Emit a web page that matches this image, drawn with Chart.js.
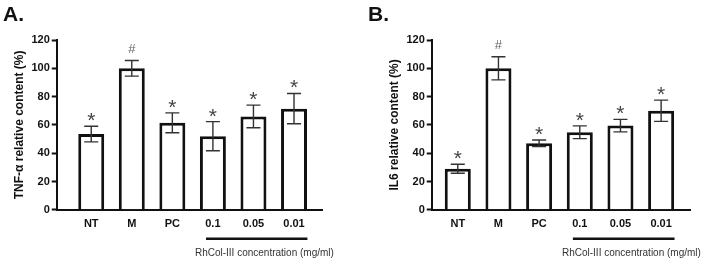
<!DOCTYPE html>
<html>
<head>
<meta charset="utf-8">
<script src="https://cdn.jsdelivr.net/npm/chart.js@4"></script>
<style>
  body { margin: 0; background: #fff; }
  #wrap { position: relative; width: 709px; height: 262px; font-family: "Liberation Sans", Arial, sans-serif; }
  canvas { position: absolute; top: 0; }
  #cA { left: 0; }
  #cB { left: 355px; }
  .panel-label { position: absolute; top: 2px; font-weight: bold; font-size: 21px; line-height: 24px; color: #111; }
</style>
</head>
<body>
<div id="wrap">
  <canvas id="cA" width="355" height="262"></canvas>
  <canvas id="cB" width="354" height="262"></canvas>
  <div class="panel-label" style="left:3px">A.</div>
  <div class="panel-label" style="left:368px">B.</div>
</div>
<script>
const categories = ['NT', 'M', 'PC', '0.1', '0.05', '0.01'];
const marks = ['*', '#', '*', '*', '*', '*'];

const tnfMean = [53.5, 100, 61.5, 52, 66, 71.5];
const tnfErr = [5.5, 5.5, 7, 10.3, 8, 10.7];

const il6Mean = [29, 100, 47, 54.8, 59.5, 70];
const il6Err = [3.2, 8.2, 2.3, 4.5, 4.4, 7.5];

const yTicks = [0, 20, 40, 60, 80, 100, 120];
const concLabel = 'RhCol-III concentration (mg/ml)';

const FONT = '"Liberation Sans", Arial, sans-serif';

// error bars, significance marks, concentration underline
const extrasPlugin = {
    id: 'extras',
    afterDatasetsDraw(chart) {
        const ctx = chart.ctx;
        const ds = chart.data.datasets[0];
        const meta = chart.getDatasetMeta(0);
        const y = chart.scales.y;
        ctx.save();
        meta.data.forEach((bar, i) => {
            const m = ds.data[i].y;
            const e = ds.err[i];
            const top = y.getPixelForValue(m + e);
            const bot = y.getPixelForValue(m - e);
            const half = bar.width * 0.27;
            ctx.strokeStyle = '#333';
            ctx.lineWidth = 1.4;
            ctx.beginPath();
            ctx.moveTo(bar.x, top); ctx.lineTo(bar.x, bot);
            ctx.moveTo(bar.x - half, top); ctx.lineTo(bar.x + half, top);
            ctx.moveTo(bar.x - half, bot); ctx.lineTo(bar.x + half, bot);
            ctx.stroke();

            const mk = ds.marks[i];
            ctx.textAlign = 'center';
            ctx.textBaseline = 'alphabetic';
            if (mk === '#') {
                ctx.fillStyle = '#666';
                ctx.font = '13px ' + FONT;
                ctx.fillText(mk, bar.x, top - 8);
            } else {
                ctx.fillStyle = '#444';
                ctx.font = '21px ' + FONT;
                ctx.fillText(mk, bar.x, top + 1);
            }
        });

        const x = chart.scales.x;
        const lineY = chart.chartArea.bottom + 29;
        ctx.strokeStyle = '#111';
        ctx.lineWidth = 2.5;
        ctx.beginPath();
        ctx.moveTo(x.getPixelForValue(3 - 0.17), lineY);
        ctx.lineTo(x.getPixelForValue(5 + 0.33), lineY);
        ctx.stroke();

        ctx.fillStyle = '#333';
        ctx.font = '10px ' + FONT;
        ctx.textAlign = 'center';
        ctx.textBaseline = 'middle';
        ctx.fillText(concLabel, x.getPixelForValue(4.27), lineY + 14);
        ctx.restore();
    }
};

function makeChart(id, mean, err, yTitle, xMin, xMax, padLeft, padRight) {
    const ctx = document.getElementById(id).getContext('2d');
    return new Chart(ctx, {
        type: 'bar',
        data: {
            datasets: [{
                data: mean.map((v, i) => ({ x: i, y: v })),
                err: err,
                marks: marks,
                backgroundColor: '#fff',
                borderColor: '#111',
                borderWidth: 3,
                borderSkipped: 'start',
                barPercentage: 0.64,
                categoryPercentage: 1
            }]
        },
        options: {
            responsive: false,
            animation: false,
            layout: { padding: { left: padLeft, right: padRight, top: 40, bottom: 23 } },
            plugins: { legend: { display: false }, tooltip: { enabled: false } },
            scales: {
                x: {
                    type: 'linear',
                    offset: false,
                    min: xMin,
                    max: xMax,
                    afterBuildTicks: s => { s.ticks = categories.map((c, i) => ({ value: i })); },
                    ticks: {
                        callback: v => categories[v],
                        color: '#111',
                        padding: 8,
                        maxRotation: 0,
                        autoSkip: false,
                        font: { family: FONT, size: 11, weight: 'bold' }
                    },
                    grid: { display: true, drawOnChartArea: false, drawTicks: false },
                    border: { display: true, color: '#111', width: 2 }
                },
                y: {
                    min: 0,
                    max: 120,
                    afterBuildTicks: s => { s.ticks = yTicks.map(v => ({ value: v })); },
                    ticks: {
                        color: '#111',
                        padding: 2,
                        font: { family: FONT, size: 11, weight: 'bold' }
                    },
                    grid: { drawOnChartArea: false, tickLength: 5, tickWidth: 2, tickColor: '#111' },
                    border: { display: true, color: '#111', width: 2 },
                    title: {
                        display: true,
                        text: yTitle,
                        color: '#111',
                        padding: { top: 0, bottom: 3 },
                        font: { family: FONT, size: 12, weight: 'bold' }
                    }
                }
            }
        },
        plugins: [extrasPlugin]
    });
}

makeChart('cA', tnfMean, tnfErr, 'TNF-α relative content (%)', -0.85, 5.69, 12, 33);
makeChart('cB', il6Mean, il6Err, 'IL6 relative content (%)', -0.64, 5.71, 32, 19);
</script>
</body>
</html>
